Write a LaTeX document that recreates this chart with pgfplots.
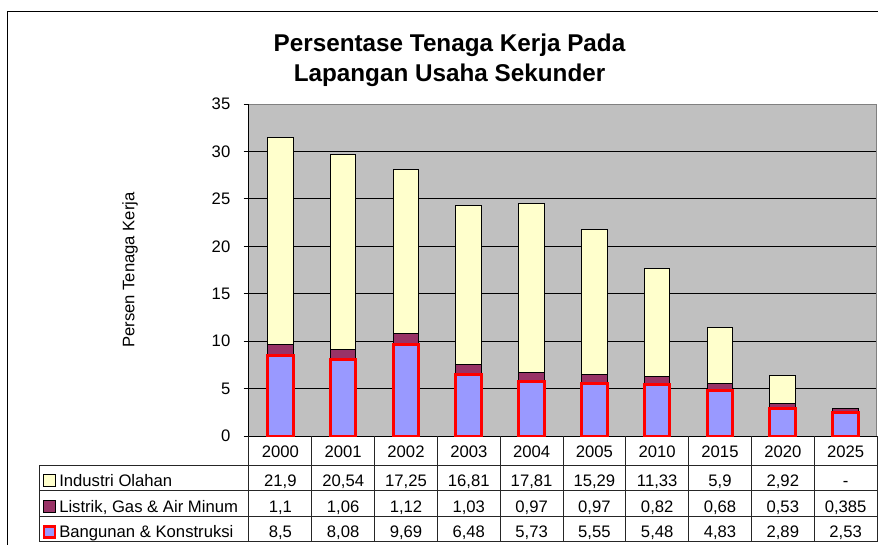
\documentclass[border=0pt]{standalone}
\usepackage{fontspec}
\setmainfont{Liberation Sans}
\usepackage{pgfplots}
\usepackage{pgfplotstable}
\pgfplotsset{compat=1.18}

\definecolor{indyel}{HTML}{FFFFCC}
\definecolor{lismag}{HTML}{993366}
\definecolor{banblue}{HTML}{9999FF}
\definecolor{plotbg}{HTML}{C0C0C0}
\definecolor{frame}{HTML}{808080}

% x = position, ban = Bangunan & Konstruksi, lis = Listrik, Gas & Air Minum, ind = Industri Olahan
\pgfplotstableread{
x year ban lis ind
0 2000 8.5 1.1 21.9
1 2001 8.08 1.06 20.54
2 2002 9.69 1.12 17.25
3 2003 6.48 1.03 16.81
4 2004 5.73 0.97 17.81
5 2005 5.55 0.97 15.29
6 2010 5.48 0.82 11.33
7 2015 4.83 0.68 5.9
8 2020 2.89 0.53 2.92
9 2025 2.53 0.385 0
}\data

\begin{document}
\begin{tikzpicture}[font=\fontsize{12.5}{15}\selectfont]
\begin{axis}[
    at={(0,0)}, anchor=south west,
    width=471pt, height=249pt, scale only axis,
    ybar stacked,
    bar width=19.2pt,
    xmin=-0.5, xmax=9.5,
    ymin=0, ymax=35,
    xtick=data,
    xticklabels from table={\data}{year},
    xtick style={draw=none},
    xticklabel style={anchor=base, yshift=-12.3pt},
    yticklabel style={xshift=-6.5pt},
    ytick={0,5,...,30},
    extra y ticks={35},
    extra y tick style={grid=none},
    ytick style={black, line width=0.75pt},
    tick align=outside,
    major tick length=4pt,
    axis x line*=bottom,
    axis y line*=left,
    axis line style={black, line width=0.75pt},
    axis background/.style={fill=plotbg},
    ymajorgrids=true,
    grid style={black, line width=0.75pt},
    ticklabel style={font=\fontsize{12.5}{15}\selectfont},
    /pgf/number format/assume math mode=true,
    ylabel={Persen Tenaga Kerja},
    every axis y label/.style={at={(axis description cs:-0.1895,0.5)}, rotate=90, anchor=center},
]
\addplot[fill=banblue, draw=red, line width=2.25pt] table[x=x, y=ban]{\data};
\addplot[fill=lismag, draw=black, line width=0.75pt] table[x=x, y=lis]{\data};
\addplot[fill=indyel, draw=black, line width=0.75pt] table[x=x, y=ind]{\data};
\draw[frame, line width=0.75pt] (rel axis cs:0,1) -- (rel axis cs:1,1) -- (rel axis cs:1,0);
\end{axis}

% title
\node[font=\bfseries\fontsize{18.2}{22.5}\selectfont, align=center] at (150.4pt,282pt)
  {Persentase Tenaga Kerja Pada\\Lapangan Usaha Sekunder};

% chart border (left and top sides only are inside the picture)
\draw[black, line width=0.75pt] (-180.75pt,-90pt) -- (-180.75pt,318pt) -- (480pt,318pt);

% data table grid
\begin{scope}[black!85, line width=0.75pt]
  \foreach \yy in {-21.75,-40.9,-60.4,-79.3}
    \draw (-156.75pt,\yy pt) -- (471pt,\yy pt);
  \draw (-156.75pt,-21.75pt) -- (-156.75pt,-79.3pt);
  \foreach \k in {0,...,10}{
    \pgfmathsetmacro\vx{47.1*\k}
    \draw (\vx pt,0pt) -- (\vx pt,-79.3pt);
  }
\end{scope}

% row labels with swatches
\draw[black, line width=0.6pt, fill=indyel] (-154.5pt,-37.5pt) rectangle (-145.5pt,-28.5pt);
\draw[black, line width=0.6pt, fill=lismag] (-154.5pt,-57pt) rectangle (-145.5pt,-48pt);
\draw[red, line width=2pt, fill=banblue] (-153.75pt,-76pt) rectangle (-145.5pt,-67.75pt);
\node[anchor=base west, inner sep=0pt] at (-142.5pt,-37.5pt) {Industri Olahan};
\node[anchor=base west, inner sep=0pt] at (-142.5pt,-57pt) {Listrik, Gas \& Air Minum};
\node[anchor=base west, inner sep=0pt] at (-142.5pt,-76.3pt) {Bangunan \& Konstruksi};

% table values
\foreach \a/\b/\c [count=\i from 0] in {
    {21,9}/{1,1}/{8,5}, {20,54}/{1,06}/{8,08}, {17,25}/{1,12}/{9,69},
    {16,81}/{1,03}/{6,48}, {17,81}/{0,97}/{5,73}, {15,29}/{0,97}/{5,55},
    {11,33}/{0,82}/{5,48}, {5,9}/{0,68}/{4,83}, {2,92}/{0,53}/{2,89},
    {-}/{0,385}/{2,53}}{
  \pgfmathsetmacro\cx{23.55+47.1*\i}
  \node[anchor=base, inner sep=0pt] at (\cx pt,-37.5pt) {\a};
  \node[anchor=base, inner sep=0pt] at (\cx pt,-57pt) {\b};
  \node[anchor=base, inner sep=0pt] at (\cx pt,-76.3pt) {\c};
}

\pgfresetboundingbox
\useasboundingbox (-186.75pt,-81pt) rectangle (471.75pt,327pt);
\end{tikzpicture}
\end{document}
